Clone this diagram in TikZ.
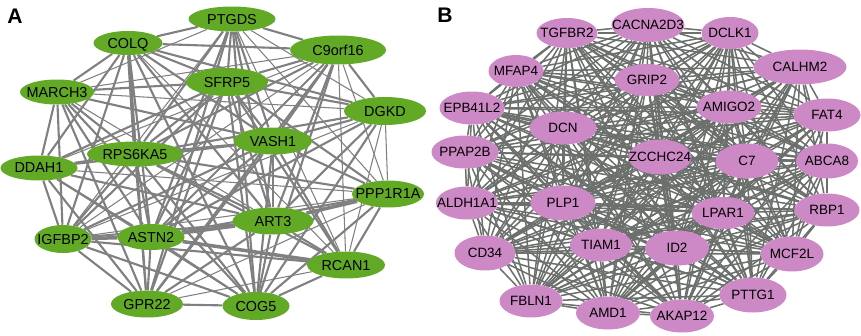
\documentclass[tikz,border=0pt]{standalone}
\usepackage{fontspec}
\setmainfont{Liberation Sans}
\usetikzlibrary{shapes.geometric,backgrounds}
\definecolor{ngreen}{RGB}{98,170,38}
\definecolor{npink}{RGB}{205,137,197}
\definecolor{lgrayA}{RGB}{128,128,128}
\definecolor{lgrayB}{RGB}{108,112,108}
\newcommand\gtxt[1]{\makebox[0pt]{\smash{\raisebox{-.5\height}{#1}}}}
\def\bnames{tgfbr,cacna,dclk,mfap,grip,calhm,epb,amigo,fat,dcn,ppap,zcchc,cseven,abca,aldh,plp,lpar,rbp,cdtf,tiam,idtwo,mcf,pttg,fbln,amd,akap}
\tikzset{
  gnode/.style args={#1/#2}{ellipse,fill=ngreen,inner sep=0pt,minimum width=#1*0.03cm,minimum height=#2*0.03cm,font=\fontsize{12.3}{14}\selectfont},
  pnode/.style args={#1/#2}{ellipse,fill=npink,inner sep=0pt,minimum width=#1*0.03cm,minimum height=#2*0.03cm,font=\fontsize{11.5}{13}\selectfont},
  lnk/.style={draw=lgrayA,line width=1.8pt},
  lnkthin/.style={draw=lgrayA,line width=0.9pt},
  lnkthick/.style={draw=lgrayA,line width=3pt},
  blnk/.style={draw=lgrayB,line width=1.3pt},
  panel/.style={font=\fontsize{18}{20}\selectfont\bfseries}
}

\begin{document}
\begin{tikzpicture}[x=0.03cm,y=-0.03cm]
\useasboundingbox (0,0) rectangle (861,336);
% panel labels
\node[panel] (lblA) at (15,16) {A};
\node[panel] (lblB) at (445,15) {B};
% panel A genes
\node[gnode={87/25}] (ptgds) at (232,19) {\gtxt{PTGDS}};
\node[gnode={69/24}] (colq) at (128,43) {\gtxt{COLQ}};
\node[gnode={96/29}] (c9) at (338,50) {\gtxt{C9orf16}};
\node[gnode={82/28}] (sfrp) at (227,82) {\gtxt{SFRP5}};
\node[gnode={74/25}] (march) at (57,92) {\gtxt{MARCH3}};
\node[gnode={82/28}] (dgkd) at (385,111) {\gtxt{DGKD}};
\node[gnode={78/27}] (vash) at (273,141) {\gtxt{VASH1}};
\node[gnode={96/25}] (rps) at (135,154) {\gtxt{RPS6KA5}};
\node[gnode={77/25}] (ddah) at (39,168) {\gtxt{DDAH1}};
\node[gnode={72/27}] (ppp) at (388,194) {\gtxt{PPP1R1A}};
\node[gnode={81/27}] (art) at (273,221) {\gtxt{ART3}};
\node[gnode={57/28}] (igf) at (63,239) {\gtxt{IGFBP2}};
\node[gnode={67/26}] (astn) at (151,237) {\gtxt{ASTN2}};
\node[gnode={78/27}] (rcan) at (346,265) {\gtxt{RCAN1}};
\node[gnode={72/27}] (gpr) at (147,304) {\gtxt{GPR22}};
\node[gnode={67/28}] (cog) at (256,306) {\gtxt{COG5}};
% panel B genes
\node[pnode={61/30}] (tgfbr) at (567,33) {\gtxt{TGFBR2}};
\node[pnode={73/34}] (cacna) at (648,25) {\gtxt{CACNA2D3}};
\node[pnode={57/32}] (dclk) at (730,33) {\gtxt{DCLK1}};
\node[pnode={55/32}] (mfap) at (516,71) {\gtxt{MFAP4}};
\node[pnode={65/32}] (grip) at (647,80) {\gtxt{GRIP2}};
\node[pnode={93/35}] (calhm) at (800,67) {\gtxt{CALHM2}};
\node[pnode={65/33}] (epb) at (472,108) {\gtxt{EPB41L2}};
\node[pnode={65/33}] (amigo) at (729,107) {\gtxt{AMIGO2}};
\node[pnode={67/33}] (fat) at (827,115) {\gtxt{FAT4}};
\node[pnode={67/33}] (dcn) at (563,128) {\gtxt{DCN}};
\node[pnode={67/33}] (ppap) at (465,152) {\gtxt{PPAP2B}};
\node[pnode={63/35}] (zcchc) at (660,157) {\gtxt{ZCCHC24}};
\node[pnode={63/35}] (cseven) at (747,161) {\gtxt{C7}};
\node[pnode={62/35}] (abca) at (827,161) {\gtxt{ABCA8}};
\node[pnode={62/33}] (aldh) at (467,203) {\gtxt{ALDH1A1}};
\node[pnode={65/35}] (plp) at (563,203) {\gtxt{PLP1}};
\node[pnode={63/32}] (lpar) at (723,213) {\gtxt{LPAR1}};
\node[pnode={65/33}] (rbp) at (827,210) {\gtxt{RBP1}};
\node[pnode={61/35}] (cdtf) at (485,253) {\gtxt{CD34}};
\node[pnode={62/33}] (tiam) at (601,245) {\gtxt{TIAM1}};
\node[pnode={64/35}] (idtwo) at (677,248) {\gtxt{ID2}};
\node[pnode={63/35}] (mcf) at (792,254) {\gtxt{MCF2L}};
\node[pnode={67/35}] (pttg) at (753,295) {\gtxt{PTTG1}};
\node[pnode={63/33}] (fbln) at (531,301) {\gtxt{FBLN1}};
\node[pnode={64/33}] (amd) at (608,313) {\gtxt{AMD1}};
\node[pnode={64/33}] (akap) at (682,316) {\gtxt{AKAP12}};
\begin{pgfonlayer}{background}
% panel A interactions
\foreach \u/\v/\s in {
  ptgds/colq/lnk, ptgds/c9/lnk, ptgds/sfrp/lnk, ptgds/dgkd/lnkthin, ptgds/vash/lnk,
  ptgds/rps/lnk, ptgds/art/lnk, ptgds/astn/lnk, ptgds/igf/lnkthin, ptgds/rcan/lnkthin,
  ptgds/cog/lnk, ptgds/gpr/lnk, ptgds/ppp/lnkthin, ptgds/march/lnkthin,
  colq/sfrp/lnk, colq/c9/lnk, colq/march/lnk, colq/rps/lnkthick, colq/vash/lnk,
  colq/dgkd/lnk, colq/art/lnk, colq/astn/lnk, colq/igf/lnk, colq/cog/lnk,
  colq/ddah/lnk, colq/rcan/lnkthin, colq/gpr/lnk,
  c9/sfrp/lnk, c9/dgkd/lnk, c9/vash/lnk, c9/rps/lnk, c9/ppp/lnkthin, c9/art/lnk,
  c9/astn/lnk, c9/rcan/lnkthin, c9/cog/lnk, c9/march/lnkthin, c9/gpr/lnk,
  c9/igf/lnkthin, c9/ddah/lnkthin,
  sfrp/march/lnk, sfrp/dgkd/lnk, sfrp/vash/lnk, sfrp/rps/lnk, sfrp/ddah/lnk,
  sfrp/ppp/lnk, sfrp/art/lnk, sfrp/igf/lnk, sfrp/astn/lnk, sfrp/rcan/lnk,
  sfrp/gpr/lnk, sfrp/cog/lnk,
  march/dgkd/lnkthin, march/rps/lnk, march/ddah/lnk, march/vash/lnk, march/igf/lnk,
  march/astn/lnk, march/art/lnkthin, march/gpr/lnk, march/cog/lnk,
  dgkd/vash/lnk, dgkd/rps/lnk, dgkd/ppp/lnkthin, dgkd/art/lnk, dgkd/rcan/lnkthin,
  dgkd/cog/lnk, dgkd/astn/lnk, dgkd/igf/lnkthin,
  vash/rps/lnk, vash/ppp/lnk, vash/art/lnk, vash/igf/lnk, vash/astn/lnk,
  vash/rcan/lnk, vash/cog/lnk, vash/gpr/lnk, vash/ddah/lnk,
  rps/ddah/lnk, rps/ppp/lnk, rps/art/lnk, rps/igf/lnk, rps/astn/lnk,
  rps/rcan/lnk, rps/gpr/lnk, rps/cog/lnk,
  ddah/ppp/lnkthin, ddah/igf/lnk, ddah/astn/lnk, ddah/art/lnk, ddah/gpr/lnk, ddah/cog/lnkthin,
  ppp/art/lnkthick, ppp/rcan/lnk, ppp/cog/lnk, ppp/astn/lnk, ppp/igf/lnkthin, ppp/gpr/lnkthin,
  art/astn/lnkthick, art/igf/lnk, art/rcan/lnk, art/gpr/lnk, art/cog/lnk,
  igf/astn/lnkthick, igf/gpr/lnk, igf/rcan/lnk, igf/cog/lnk,
  astn/rcan/lnkthick, astn/gpr/lnk, astn/cog/lnk,
  rcan/cog/lnk, rcan/gpr/lnkthin, gpr/cog/lnk}
  \draw[\s] (\u) -- (\v);
% panel B interactions
\foreach \a [count=\i] in \bnames {
  \foreach \b [count=\j] in \bnames {
    \ifnum\j>\i \draw[blnk] (\a) -- (\b); \fi
  }
}
\end{pgfonlayer}
\end{tikzpicture}
\end{document}
